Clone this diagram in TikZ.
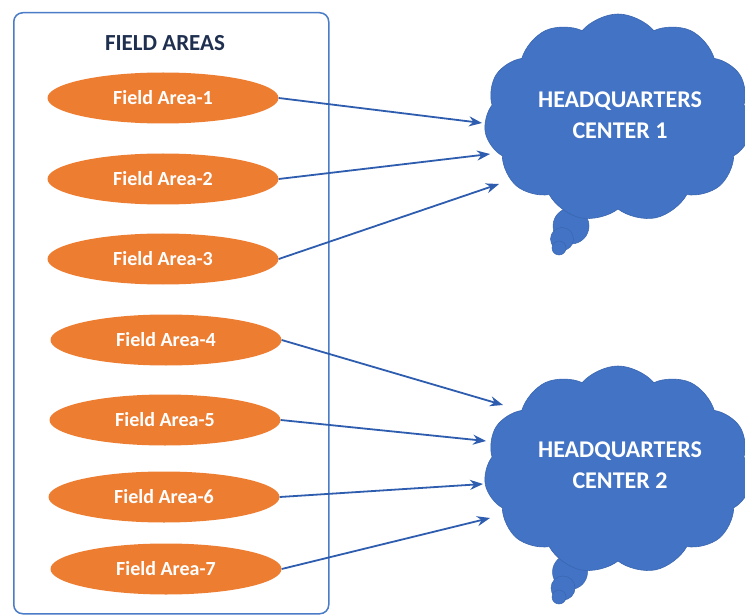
\documentclass[tikz,border=0pt]{standalone}
\usepackage{fontspec}
\setmainfont{Carlito}
\usetikzlibrary{shapes.geometric,shapes.symbols,arrows.meta}
\definecolor{orng}{HTML}{ED7D31}
\definecolor{cblue}{HTML}{4273C5}
\definecolor{cedge}{HTML}{3A66B0}
\definecolor{boxblue}{HTML}{4A7CC7}
\definecolor{arrblue}{HTML}{2E5DAF}
\definecolor{navy}{HTML}{1F2F4F}
\begin{document}
\begin{tikzpicture}[x=1pt,y=-1pt,
  area/.style={ellipse,fill=orng,draw=none,minimum width=231pt,minimum height=51pt,inner sep=0pt,text=white,font=\bfseries\fontsize{20}{24}\selectfont},
  hq/.style={cloud,cloud puffs=11,cloud puff arc=100,aspect=1.3,fill=cblue,draw=cedge,line width=0.6pt,minimum width=268pt,minimum height=208pt,inner sep=0pt,text=white,align=center,font=\bfseries\fontsize{24}{31}\selectfont},
  hqtext/.style={text=white,align=center,font=\bfseries\fontsize{24}{31}\selectfont},
  bub/.style={circle,fill=cblue,draw=cedge,line width=0.5pt,inner sep=0pt},
  conn/.style={draw=arrblue,line width=1.8pt,-{Stealth[length=13pt,width=10pt]}}]
\useasboundingbox (0,0) rectangle (745,615);
\fill[white] (0,0) rectangle (745,615);
\node[draw=boxblue,line width=1.5pt,rounded corners=9pt,minimum width=315pt,minimum height=601pt,anchor=north west] (box) at (13,12) {};
\node[text=navy,font=\bfseries\fontsize{23}{26}\selectfont] (title) at (165,43) {FIELD AREAS};
\node[area] (f1) at (163,98) {Field Area-1};
\node[area] (f2) at (163,179) {Field Area-2};
\node[area] (f3) at (163,259) {Field Area-3};
\node[area] (f4) at (166,340) {Field Area-4};
\node[area] (f5) at (165,420) {Field Area-5};
\node[area] (f6) at (164,497) {Field Area-6};
\node[area] (f7) at (166,569) {Field Area-7};
% thought bubble tails
\node[bub,minimum size=36pt] (t1a) at (571,226) {};
\node[bub,minimum size=23pt] (t1b) at (562,239) {};
\node[bub,minimum size=14pt] (t1c) at (559,248) {};
\node[bub,minimum size=35pt] (t2a) at (570,572) {};
\node[bub,minimum size=24pt] (t2b) at (563,588) {};
\node[bub,minimum size=14pt] (t2c) at (559,597) {};
\node[hq] (hq1) at (618,118) {};
\node[hq] (hq2) at (618,470) {};
\node[hqtext] (l1) at (620,115) {HEADQUARTERS\\CENTER 1};
\node[hqtext] (l2) at (620,465) {HEADQUARTERS\\CENTER 2};
\coordinate (e1) at (482,123);
\coordinate (e2) at (490,154);
\coordinate (e3) at (499,184);
\coordinate (e4) at (503,405);
\coordinate (e5) at (486,441);
\coordinate (e6) at (483,484);
\coordinate (e7) at (490,518);
\draw[conn] (f1.east) -- (e1);
\draw[conn] (f2.east) -- (e2);
\draw[conn] (f3.east) -- (e3);
\draw[conn] (f4.east) -- (e4);
\draw[conn] (f5.east) -- (e5);
\draw[conn] (f6.east) -- (e6);
\draw[conn] (f7.east) -- (e7);
\end{tikzpicture}
\end{document}
